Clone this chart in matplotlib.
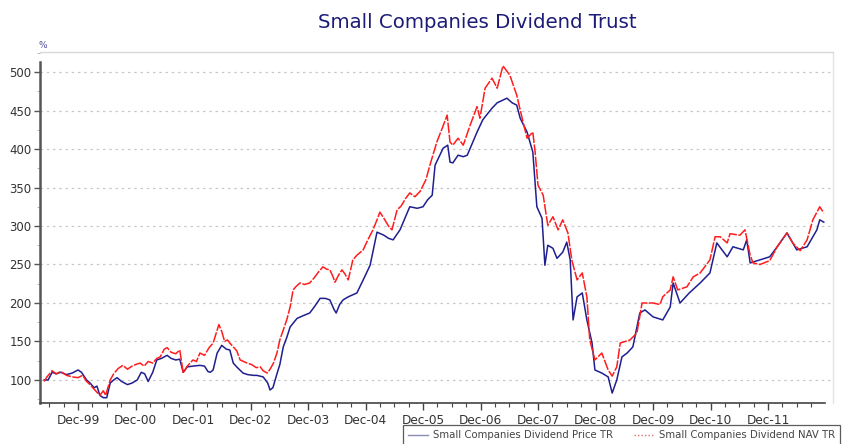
import matplotlib
matplotlib.use("Agg")
import matplotlib.pyplot as plt
from matplotlib.lines import Line2D
from matplotlib.ticker import MultipleLocator, FixedLocator

# ---- data (decimal years, % total return) ----
nav_years = [1999.41, 1999.46, 1999.55, 1999.62, 1999.70, 1999.80, 1999.90, 2000.00, 2000.08, 2000.15,
             2000.21, 2000.28, 2000.33, 2000.38, 2000.44, 2000.48, 2000.52, 2000.56, 2000.62, 2000.70,
             2000.78, 2000.86, 2000.94, 2001.00, 2001.08, 2001.15, 2001.22, 2001.30, 2001.37, 2001.43,
             2001.50, 2001.55, 2001.62, 2001.70, 2001.77, 2001.83, 2001.90, 2002.00, 2002.06, 2002.12,
             2002.20, 2002.28, 2002.35, 2002.40, 2002.45, 2002.50, 2002.55, 2002.60, 2002.64, 2002.70,
             2002.76, 2002.82, 2002.88, 2002.94, 2003.02, 2003.10, 2003.17, 2003.22, 2003.29, 2003.34,
             2003.40, 2003.46, 2003.51, 2003.57, 2003.63, 2003.69, 2003.74, 2003.80, 2003.86, 2003.94,
             2004.03, 2004.10, 2004.18, 2004.26, 2004.32, 2004.38, 2004.43, 2004.47, 2004.53, 2004.59,
             2004.64, 2004.70, 2004.78, 2004.85, 2004.96, 2005.04, 2005.13, 2005.20, 2005.25, 2005.32,
             2005.40, 2005.46, 2005.55, 2005.62, 2005.70, 2005.77, 2005.86, 2005.95, 2006.05, 2006.12,
             2006.24, 2006.35, 2006.42, 2006.47, 2006.52, 2006.61, 2006.70, 2006.82, 2006.94, 2006.99,
             2007.08, 2007.20, 2007.29, 2007.39, 2007.51, 2007.63, 2007.69, 2007.74, 2007.81, 2007.91,
             2007.95, 2008.00, 2008.09, 2008.17, 2008.26, 2008.35, 2008.43, 2008.52, 2008.59, 2008.68,
             2008.77, 2008.85, 2008.90, 2008.99, 2009.11, 2009.22, 2009.29, 2009.37, 2009.43, 2009.60,
             2009.72, 2009.81, 2010.00, 2010.12, 2010.17, 2010.30, 2010.35, 2010.43, 2010.59, 2010.70,
             2010.82, 2010.99, 2011.08, 2011.17, 2011.29, 2011.34, 2011.51, 2011.60, 2011.69, 2011.74,
             2011.86, 2012.03, 2012.16, 2012.33, 2012.43, 2012.56, 2012.68, 2012.78, 2012.90, 2012.97]
nav_values = [98, 104, 112, 108, 111, 106, 104, 103, 106, 98,
              94, 88, 84, 80, 86, 80, 90, 100, 108, 115,
              119, 114, 118, 120, 122, 118, 124, 122, 128, 130,
              140, 142, 136, 134, 139, 109, 118, 126, 124, 135,
              132, 142, 148, 160, 172, 163, 150, 152, 148, 143,
              138, 126, 124, 122, 120, 116, 117, 112, 109, 114,
              122, 135, 152, 165, 178, 195, 217, 222, 226, 224,
              226, 232, 240, 247, 244, 243, 235, 227, 236, 243,
              238, 230, 256, 262, 269, 282, 295, 308, 318, 310,
              300, 295, 321, 326, 336, 343, 338, 345, 360, 379,
              409, 430, 444, 409, 405, 414, 405, 431, 455, 440,
              479, 492, 479, 508, 496, 470, 451, 435, 414, 422,
              396, 353, 340, 301, 312, 295, 308, 291, 255, 230,
              239, 208, 152, 126, 135, 113, 105, 117, 148, 152,
              161, 200, 200, 198, 208, 217, 234, 217, 221, 234,
              239, 256, 286, 286, 278, 290, 288, 295, 262, 252,
              250, 255, 273, 291, 278, 268, 282, 308, 325, 317]

price_years = [1999.41, 1999.48, 1999.55, 1999.62, 1999.70, 1999.80, 1999.90, 2000.00, 2000.06, 2000.15,
               2000.21, 2000.28, 2000.33, 2000.38, 2000.44, 2000.50, 2000.56, 2000.62, 2000.68, 2000.76,
               2000.86, 2000.94, 2001.03, 2001.10, 2001.16, 2001.22, 2001.30, 2001.37, 2001.45, 2001.55,
               2001.62, 2001.70, 2001.77, 2001.83, 2001.90, 2002.00, 2002.12, 2002.20, 2002.26, 2002.30,
               2002.35, 2002.42, 2002.50, 2002.58, 2002.64, 2002.70, 2002.76, 2002.87, 2002.95, 2003.05,
               2003.11, 2003.22, 2003.30, 2003.34, 2003.39, 2003.46, 2003.51, 2003.57, 2003.63, 2003.69,
               2003.81, 2003.90, 2004.03, 2004.12, 2004.21, 2004.30, 2004.38, 2004.45, 2004.49, 2004.55,
               2004.61, 2004.70, 2004.85, 2004.96, 2005.08, 2005.20, 2005.32, 2005.40, 2005.48, 2005.60,
               2005.77, 2005.90, 2006.00, 2006.08, 2006.16, 2006.21, 2006.35, 2006.43, 2006.47, 2006.52,
               2006.61, 2006.70, 2006.77, 2006.94, 2007.04, 2007.20, 2007.29, 2007.46, 2007.55, 2007.63,
               2007.69, 2007.81, 2007.91, 2007.98, 2008.07, 2008.12, 2008.17, 2008.26, 2008.33, 2008.43,
               2008.50, 2008.56, 2008.61, 2008.68, 2008.77, 2008.85, 2008.94, 2008.99, 2009.11, 2009.22,
               2009.29, 2009.37, 2009.46, 2009.55, 2009.65, 2009.77, 2009.86, 2010.00, 2010.17, 2010.30,
               2010.35, 2010.47, 2010.63, 2010.82, 2010.99, 2011.11, 2011.29, 2011.39, 2011.57, 2011.63,
               2011.69, 2011.86, 2012.03, 2012.16, 2012.33, 2012.50, 2012.68, 2012.85, 2012.90, 2012.97]
price_values = [100, 100, 110, 108, 110, 107, 109, 113, 110, 100,
                96, 90, 92, 80, 77, 77, 96, 100, 103, 98,
                94, 96, 100, 110, 108, 98, 110, 126, 128, 132,
                128, 126, 127, 110, 117, 118, 119, 118, 111, 110,
                113, 135, 145, 140, 139, 122, 117, 109, 107, 106,
                106, 104, 96, 87, 90, 108, 120, 143, 155, 169,
                180, 183, 187, 196, 206, 206, 204, 192, 187, 198,
                204, 208, 213, 230, 249, 292, 288, 284, 282, 295,
                325, 323, 325, 334, 340, 379, 401, 405, 383, 382,
                392, 390, 392, 422, 438, 453, 460, 466, 460, 457,
                440, 422, 396, 325, 310, 249, 275, 271, 258, 266,
                279, 256, 178, 208, 213, 178, 148, 113, 109, 104,
                83, 100, 130, 135, 143, 187, 191, 182, 178, 195,
                226, 200, 213, 226, 239, 278, 260, 273, 269, 282,
                252, 256, 260, 273, 291, 269, 273, 295, 308, 305]

tick_years = [2000, 2001, 2002, 2003, 2004, 2005, 2006, 2007, 2008, 2009, 2010, 2011, 2012]
tick_labels = ["Dec-99", "Dec-00", "Dec-01", "Dec-02", "Dec-03", "Dec-04", "Dec-05",
               "Dec-06", "Dec-07", "Dec-08", "Dec-09", "Dec-10", "Dec-11"]
y_ticks = [100, 150, 200, 250, 300, 350, 400, 450, 500]

title = "Small Companies Dividend Trust"
price_label = "Small Companies Dividend Price TR"
nav_label = "Small Companies Dividend NAV TR"

# ---- figure ----
W, H = 857, 444
fig = plt.figure(figsize=(W / 100, H / 100), dpi=100)
fig.patch.set_facecolor("white")

ax = fig.add_axes([40 / W, 1 - 403 / H, (833 - 40) / W, (403 - 52) / H])
x_left = 2000 + (40 - 78) / 57.5
x_right = 2000 + (833 - 78) / 57.5
x_axis_end = 2000 + (825 - 78) / 57.5
ax.set_xlim(x_left, x_right)
ax.set_ylim(70.1, 526)

blue = "#1f1f8f"
red = "#ff1c1c"
ax.plot(price_years, price_values, color=blue, lw=1.1, zorder=3)
ax.plot(nav_years, nav_values, color=red, lw=1.1, zorder=4, dashes=(7, 1))

# grid
for v in y_ticks:
    ax.axhline(v, color="#c8c8c8", lw=0.9, ls=(0, (2, 3)), zorder=1)

# spines
ax.spines["top"].set_color("#d8d8d8")
ax.spines["right"].set_color("#e4e4e4")
ax.spines["top"].set_linewidth(1.0)
ax.spines["right"].set_linewidth(1.0)
ax.spines["left"].set_color("#555555")
ax.spines["left"].set_linewidth(1.8)
ax.spines["left"].set_bounds(70.1, 513)
ax.spines["bottom"].set_color("#444444")
ax.spines["bottom"].set_linewidth(1.2)
ax.spines["bottom"].set_bounds(x_left, x_axis_end)

# ticks
ax.xaxis.set_major_locator(FixedLocator(tick_years))
ax.set_xticklabels(tick_labels)
minor_x = [y + q / 4 for y in range(1999, 2013) for q in range(4)]
minor_x = [m for m in minor_x if x_left < m < x_axis_end and m not in tick_years]
ax.xaxis.set_minor_locator(FixedLocator(minor_x))
ax.set_yticks(y_ticks)
ax.yaxis.set_minor_locator(MultipleLocator(25))
ax.tick_params(axis="x", which="major", length=5, width=1.0, color="#444444",
               labelsize=8.7, labelcolor="#333333", pad=3)
ax.tick_params(axis="x", which="minor", length=3, width=0.8, color="#444444")
ax.tick_params(axis="y", which="major", length=4, width=1.0, color="#555555",
               labelsize=8.5, labelcolor="#333333", pad=2)
ax.tick_params(axis="y", which="minor", length=2, width=0.6, color="#aaaaaa")

# title and unit
fig.text(477 / W, 1 - 22 / H, title, ha="center", va="center", fontsize=14.2, color="#1c1c78")
fig.text(43 / W, 1 - 45 / H, "%", ha="center", va="center", fontsize=6.5, color="#5050a0")

# legend (partly cut off at the bottom right, as in the reference)
handles = [Line2D([], [], color="#8c8cb4", lw=1.0),
           Line2D([], [], color="#e07070", lw=1.0, ls=(0, (1, 1.5)))]
leg = fig.legend(handles, [price_label, nav_label], loc="upper left",
                 bbox_to_anchor=(403 / W, 1 - 425 / H), ncol=2, fontsize=7.3,
                 frameon=True, fancybox=False, handlelength=2.0, handletextpad=0.5,
                 columnspacing=2.0, borderpad=0.5, borderaxespad=0)
leg.get_frame().set_edgecolor("#333333")
leg.get_frame().set_linewidth(0.9)
for t in leg.get_texts():
    t.set_color("#444444")

fig.savefig("out.png", dpi=100, facecolor="white")
